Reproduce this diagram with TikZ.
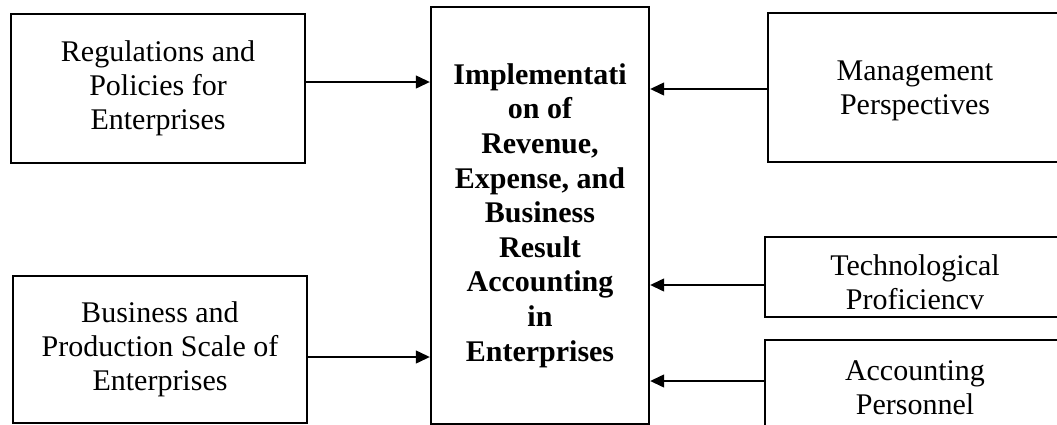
\documentclass[tikz,border=0pt]{standalone}
\usepackage{fontspec}
\setmainfont{Liberation Serif}
\usetikzlibrary{arrows.meta}
\tikzset{
  factor/.style={draw, line width=1.2pt, align=center, inner sep=0pt,
    font=\fontsize{15}{17}\selectfont},
  link/.style={->, line width=0.65pt},
}
\begin{document}
\begin{tikzpicture}[>={Triangle[length=7pt,width=6.5pt]}, x=0.5pt, y=-0.5pt]
    \useasboundingbox (0,0) rectangle (1057,424);
    % left side
    \node[factor, minimum width=147pt, minimum height=74.5pt] (reg) at (158,88.5) {Regulations and\\Policies for\\Enterprises};
    \node[factor, minimum width=147pt, minimum height=73.5pt] (scale) at (160,349.5) {Business and\\Production Scale of\\Enterprises};
    % centre
    \node[factor, minimum width=109pt, minimum height=208.5pt,
      font=\fontsize{15}{17.3}\selectfont\bfseries] (impl) at (540,215.5)
      {Implementati\\on of\\Revenue,\\Expense, and\\Business\\Result\\Accounting\\in\\Enterprises};
    % right side
    \node[factor, minimum width=147pt, minimum height=74.5pt] (mgmt) at (915,87.5) {\rule{0pt}{13pt}Management\\Perspectives};
    \node[factor, minimum width=150pt, minimum height=40pt] (tech) at (915,277) {\rule{0pt}{16pt}Technological\\Proficiencv};
    \node[factor, minimum width=150pt, minimum height=48pt] (acct) at (915,388) {Accounting\\Personnel};
    % arrows
    \draw[link] (reg.east |- 0,82) -- (impl.west |- 0,82);
    \draw[link] (scale.east |- 0,357) -- (impl.west |- 0,357);
    \draw[link] (mgmt.west |- 0,89) -- (impl.east |- 0,89);
    \draw[link] (tech.west |- 0,285) -- (impl.east |- 0,285);
    \draw[link] (acct.west |- 0,381) -- (impl.east |- 0,381);
\end{tikzpicture}
\end{document}
